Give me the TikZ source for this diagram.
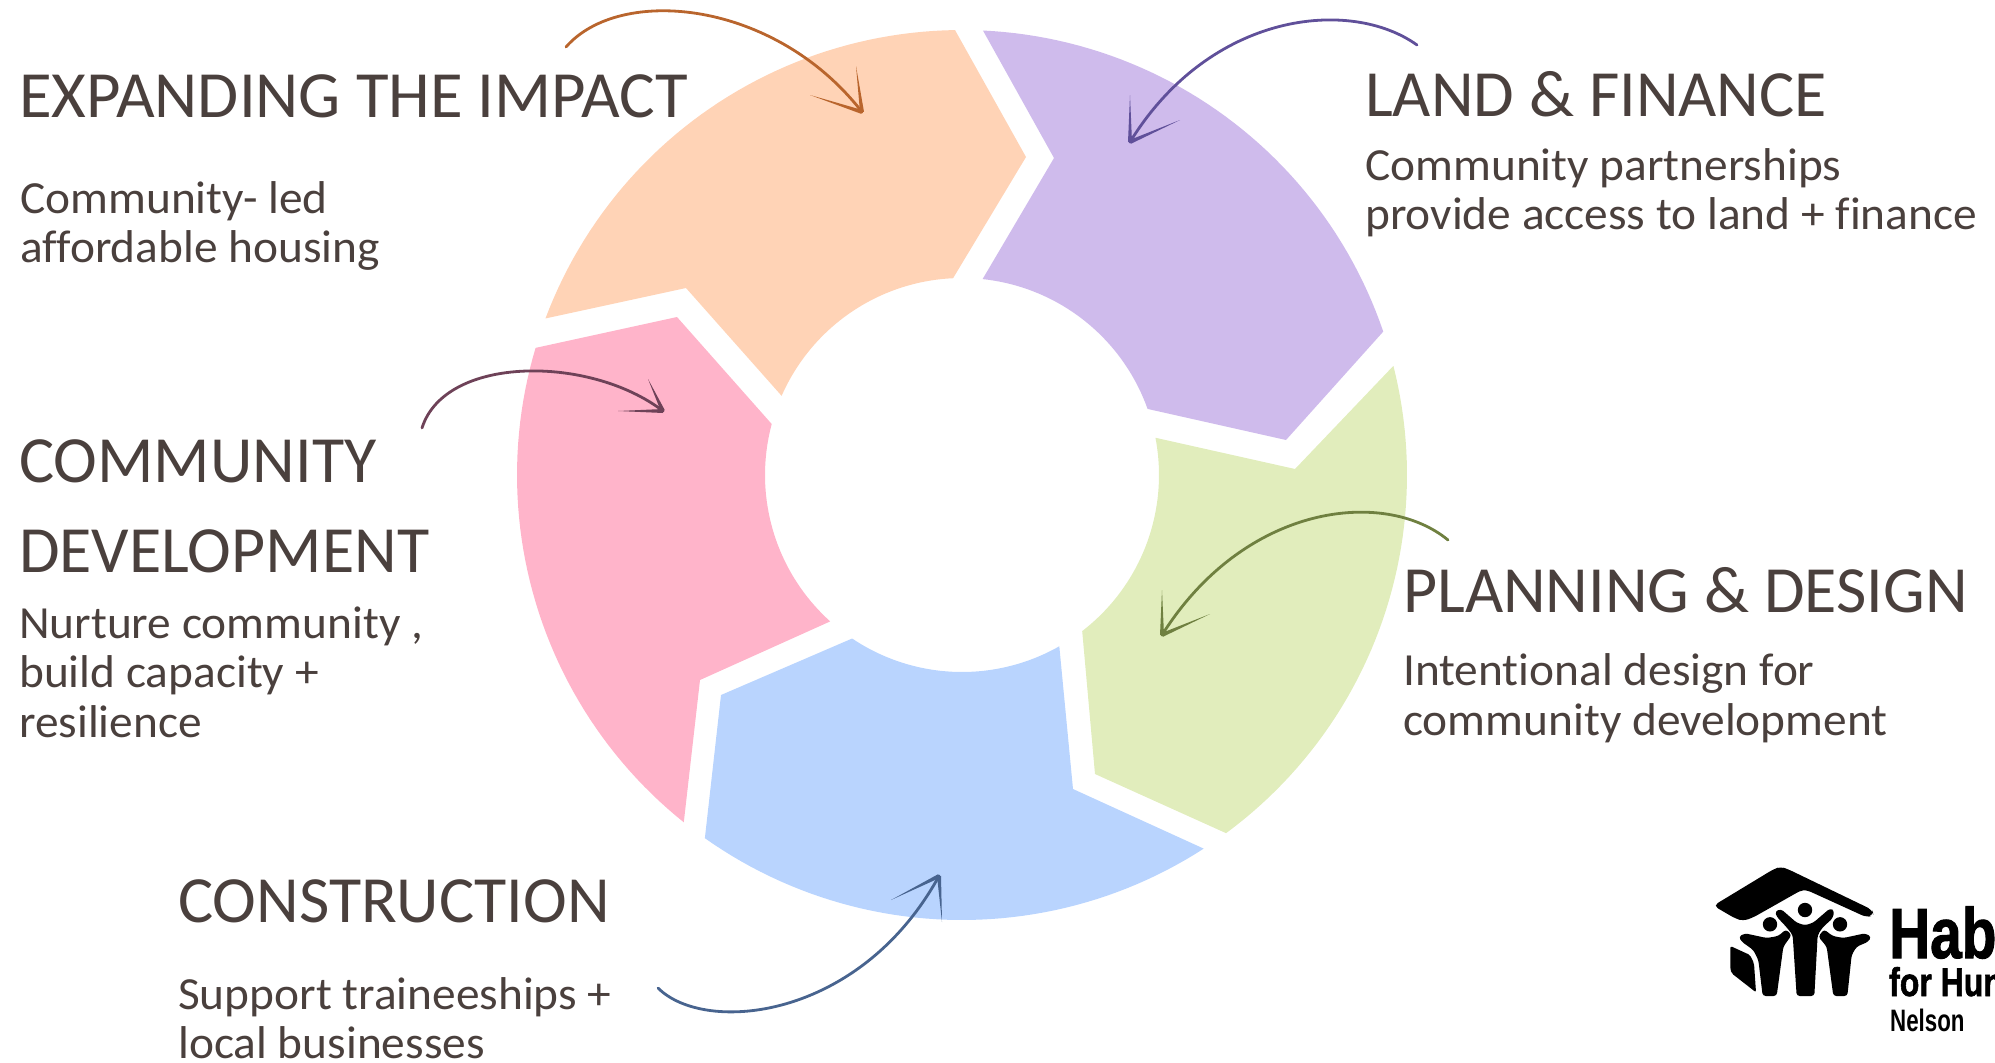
\documentclass[tikz,border=0pt]{standalone}
\usepackage{fontspec}
\setmainfont{Carlito}[Ligatures=NoCommon]
\newfontfamily\titlefont{Carlito}[Ligatures=NoCommon]
\newfontfamily\bodyfont{Carlito}[Ligatures=NoCommon,FakeStretch=1.03]
\newfontfamily\logofont{Liberation Sans Bold}[FakeBold=1.6]
\newfontfamily\logosmall{Liberation Sans Bold}
\usetikzlibrary{calc}
\definecolor{inkc}{HTML}{4A403D}
\definecolor{orangef}{HTML}{FFD3B6}
\definecolor{purplef}{HTML}{CFBBEC}
\definecolor{greenf}{HTML}{E1EDBC}
\definecolor{bluef}{HTML}{B9D4FE}
\definecolor{pinkf}{HTML}{FFB4CA}
\definecolor{orangea}{HTML}{B9652D}
\definecolor{purplea}{HTML}{60509A}
\definecolor{greena}{HTML}{6F8040}
\definecolor{bluea}{HTML}{48648F}
\definecolor{pinka}{HTML}{6E4258}
% colour, notch point, outer from, outer to, tip point, inner from, inner to
\newcommand{\ringseg}[7]{\fill[#1] (#2) -- plot[domain=#3:#4,samples=50,variable=\t] ({962+445*cos(\t)},{475-445*sin(\t)}) -- (#5) -- plot[domain=#6:#7,samples=40,variable=\t] ({962+197*cos(\t)},{475-197*sin(\t)}) -- cycle;}
\tikzset{
  title/.style={anchor=base west,inner sep=0pt,text=inkc,font=\titlefont\fontsize{66}{66}\selectfont},
  body/.style={anchor=base west,inner sep=0pt,text=inkc,font=\bodyfont\fontsize{46}{46}\selectfont},
  sketch/.style={line width=2.8pt,line cap=round},
  logotext/.style={anchor=base west,inner sep=0pt},
}
% tapered barb: from tip (#1) to free end (#2)
\newcommand{\barb}[3]{\fill[#3] ($(#1)!2pt!90:(#2)$) -- ($(#1)!2pt!-90:(#2)$) -- (#2) -- cycle;}
\begin{document}
\begin{tikzpicture}[x=1pt,y=-1pt]
\useasboundingbox (0,0) rectangle (1995,1063);
% segments
\ringseg{orangef}{686,288}{159.4}{90.9}{1026,157}{92.6}{156.3}
\ringseg{purplef}{1054,158}{87.3}{18.8}{1286,440}{19.6}{84}
\ringseg{greenf}{1295,469}{14.2}{-53.6}{1095,774}{-52.4}{10.9}
\ringseg{bluef}{1073,789}{-57.1}{-125.3}{721,695}{-123.9}{-60.4}
\ringseg{pinkf}{700,680}{231.3}{163.4}{677,317}{165}{228}
% sketched arrows
\coordinate (oS) at (566,47); \coordinate (oT) at (862,112);
\draw[sketch,orangea] (oS) .. controls (620,-15) and (775,0) .. (oT);
\barb{oT}{856,66}{orangea}\barb{oT}{810,95}{orangea}
\coordinate (pS) at (1417,45); \coordinate (pT) at (1130,142);
\draw[sketch,purplea] (pS) .. controls (1350,-3) and (1210,12) .. (pT);
\barb{pT}{1130,95}{purplea}\barb{pT}{1180,120}{purplea}
\coordinate (gS) at (1448,540); \coordinate (gT) at (1162,635);
\draw[sketch,greena] (gS) .. controls (1385,488) and (1245,503) .. (gT);
\barb{gT}{1162,590}{greena}\barb{gT}{1210,614}{greena}
\coordinate (bS) at (658,988); \coordinate (bT) at (939,876);
\draw[sketch,bluea] (bS) .. controls (705,1035) and (860,1020) .. (bT);
\barb{bT}{891,900}{bluea}\barb{bT}{942,922}{bluea}
\coordinate (kS) at (422,428); \coordinate (kT) at (663,411);
\draw[sketch,pinka] (kS) .. controls (445,355) and (590,355) .. (kT);
\barb{kT}{648,379}{pinka}\barb{kT}{618,411}{pinka}
% texts
\node[title,xscale=1.012] (t1) at (19,117) {EXPANDING THE IMPACT};
\node[body] (b1a) at (20,213) {Community- led};
\node[body] (b1b) at (20,262) {affordable housing};
\node[title] (t2) at (1365,116) {LAND \& FINANCE};
\node[body] (b2a) at (1365,180) {Community partnerships};
\node[body] (b2b) at (1365,229) {provide access to land + finance};
\node[title] (t3) at (19,482) {COMMUNITY};
\node[title] (t3b) at (19,572) {DEVELOPMENT};
\node[body] (b3a) at (19,638) {Nurture community ,};
\node[body] (b3b) at (19,687) {build capacity +};
\node[body] (b3c) at (19,737) {resilience};
\node[title] (t4) at (1403,612) {PLANNING \& DESIGN};
\node[body] (b4a) at (1403,685) {Intentional design for};
\node[body] (b4b) at (1403,735) {community development};
\node[title] (t5) at (178,922) {CONSTRUCTION};
\node[body] (b5a) at (178,1009) {Support traineeships +};
\node[body] (b5b) at (178,1058) {local businesses};
% logo
\begin{scope}[shift={(1650,840)},x=.33333pt,y=-.33333pt]
\fill[black,rounded corners=5pt] (190,197) -- (370,88) -- (392,80) -- (415,88) -- (668,210) -- (670,226) -- (650,232) -- (470,150) -- (455,150) -- (310,232) -- (280,243) -- (255,235) -- cycle;
\fill[black] (465,210) circle[radius=7.2pt];
\fill[black] (360,253) circle[radius=7.2pt];
\fill[black] (570,253) circle[radius=7.2pt];
\fill[black,rounded corners=3pt] (375,214) -- (393,207) -- (440,248) -- (465,256) -- (490,248) -- (540,205) -- (553,212) -- (548,235) -- (518,262) -- (503,285) -- (493,468) -- (440,468) -- (428,285) -- (410,262) -- (380,230) -- cycle;
\fill[black,rounded corners=3pt] (266,290) -- (285,280) -- (350,294) -- (385,288) -- (408,268) -- (425,285) -- (400,320) -- (380,468) -- (338,468) -- (325,360) -- (310,330) -- (275,305) -- cycle;
\fill[black,rounded corners=3pt] (664,290) -- (645,280) -- (580,294) -- (548,288) -- (522,268) -- (505,290) -- (530,320) -- (550,468) -- (592,468) -- (605,345) -- (620,320) -- (655,305) -- cycle;
\fill[black,rounded corners=2pt] (241,318) -- (300,345) -- (312,370) -- (318,457) -- (245,400) -- (241,388) -- cycle;
\end{scope}
\node[logotext,xscale=.8,font=\logofont\fontsize{71}{71}\selectfont] (lh) at (1889,958) {Hab};
\node[logotext,xscale=.8,font=\logofont\fontsize{40}{40}\selectfont] (lf) at (1889,996) {for Hun};
\node[logotext,xscale=.72,font=\logosmall\fontsize{31}{31}\selectfont] (ln) at (1890,1031) {Nelson};
\end{tikzpicture}
\end{document}
